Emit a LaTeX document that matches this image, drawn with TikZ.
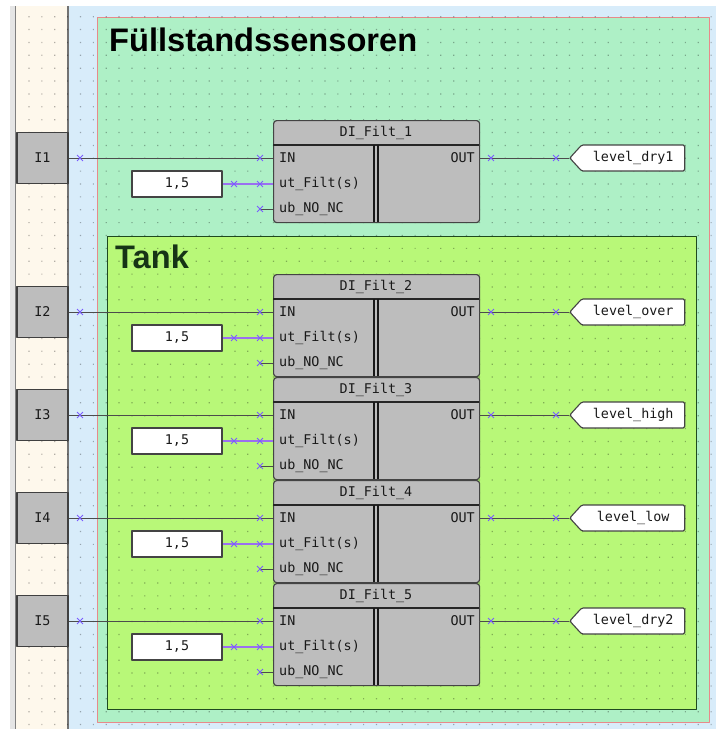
\documentclass[tikz,border=0pt]{standalone}
\usepackage{fontspec}
\setmainfont{Liberation Sans}
\setmonofont{DejaVu Sans Mono}
\usepackage{xcolor}
\usetikzlibrary{shapes.misc,shapes.symbols}

\definecolor{sheetblue}{HTML}{D8ECFA}
\definecolor{railbeige}{HTML}{FEF8EC}
\definecolor{panelgreen}{HTML}{AEF0C6}
\definecolor{panelred}{HTML}{E88A8A}
\definecolor{tankgreen}{HTML}{B8F878}
\definecolor{tankedge}{HTML}{1F4A1F}
\definecolor{blockgrey}{HTML}{BDBDBD}
\definecolor{edgegrey}{HTML}{444444}
\definecolor{crossblue}{HTML}{7A5CFF}
\definecolor{wirepurple}{HTML}{9A70F0}

\begin{document}
\begin{tikzpicture}[
  x=1pt,
  y=-1pt,
  line join=round,
  every node/.style={font=\fontsize{13.4}{15}\ttfamily, text=black!90},
  griddot/.style={fill=black, opacity=0.3},
  panellabel/.style={font=\fontsize{32.6}{36}\selectfont\bfseries, anchor=base west, inner sep=0pt},
  fblock/.style={draw=edgegrey, line width=1.2pt, fill=blockgrey, rounded corners=3pt,
    minimum width=206pt, minimum height=102pt, inner sep=0pt, anchor=north west},
  ioblock/.style={draw=black!75, line width=1.2pt, fill=blockgrey,
    minimum width=51pt, minimum height=51pt, inner sep=0pt},
  constbox/.style={draw=edgegrey, line width=1.3pt, fill=white,
    minimum width=90pt, minimum height=26pt, inner sep=0pt},
  tagbox/.style={signal, signal to=west, signal pointer angle=95, draw=edgegrey, line width=1.1pt,
    fill=white, rounded corners=1.5pt, minimum width=115pt, minimum height=26pt,
    inner xsep=0pt, inner ysep=0pt, anchor=west},
  pinleft/.style={anchor=west, inner xsep=6pt, inner ysep=0pt},
  pinright/.style={anchor=east, inner xsep=4pt, inner ysep=0pt},
  wire/.style={draw=black!70, line width=1pt},
  valuewire/.style={draw=wirepurple, line width=1.5pt},
  xmark/.style={cross out, draw=crossblue, line width=0.9pt, minimum size=5pt, inner sep=0pt}
]
  \useasboundingbox (0,0) rectangle (716,729);

  % Sheet, left rail
  \fill[sheetblue] (68,6) rectangle (716,729);
  \fill[railbeige] (16,6) rectangle (68,729);
  \fill[black!10] (10,6) rectangle (15,729);
  \draw[black!50, line width=1.2pt] (15.5,6) -- (15.5,729);
  \draw[black!55, line width=1.2pt] (68,6) -- (68,729);

  % Frames
  \draw[panelred, fill=panelgreen, line width=1pt] (97.5,17.5) rectangle (709.5,722);
  \draw[tankedge, fill=tankgreen, line width=1pt] (107,236) rectangle (696,709);

  % Grid
  \fill[griddot] \foreach \k [evaluate=\k as \dotx using 29+12.87*\k] in {0,...,53}{
    \foreach \j [evaluate=\j as \doty using 16.7+12.87*\j] in {0,...,55}{
      (\dotx-0.6,\doty-0.6) rectangle (\dotx+0.6,\doty+0.6)
    }
  };

  \node[panellabel, text=black] (sensors) at (109,51) {Füllstandssensoren};
  \node[panellabel, text=tankedge!70!black] (tank) at (115,268) {Tank};

  \foreach \n/\ytop/\tagname in {1/120/level\_dry1,2/274/level\_over,3/377/level\_high,4/480/level\_low,5/583/level\_dry2}{
    % Function block
    \node[fblock] (block\n) at (273,\ytop) {};
    \draw[black!85, line width=1.6pt] (273,\ytop+25) -- (479,\ytop+25);
    \draw[black!90, line width=2pt] (374,\ytop+25) -- (374,\ytop+102);
    \draw[black!90, line width=2pt] (378,\ytop+25) -- (378,\ytop+102);
    \node (title\n) at (376,\ytop+13) {DI\_Filt\_\n};
    \node[pinleft] (in\n) at (273,\ytop+38) {IN};
    \node[pinleft] (ut\n) at (273,\ytop+64) {ut\_Filt(s)};
    \node[pinleft] (ub\n) at (273,\ytop+89) {ub\_NO\_NC};
    \node[pinright] (out\n) at (479,\ytop+38) {OUT};

    % Left and right ends
    \node[ioblock] (io\n) at (42.5,\ytop+38) {I\n};
    \node[constbox] (const\n) at (177,\ytop+64) {1,5};
    \node[tagbox] (tag\n) at (569,\ytop+38) {\tagname};

    % Wires
    \draw[wire] (io\n) -- (in\n);
    \draw[valuewire] (const\n) -- (ut\n);
    \coordinate (ubend\n) at (260,\ytop+89);
    \draw[wire] (ubend\n) -- (ub\n);
    \draw[wire] (out\n) -- (tag\n.west);

    \node[xmark] (xa\n) at (80,\ytop+38) {};
    \node[xmark] (xb\n) at (260,\ytop+38) {};
    \node[xmark] (xc\n) at (234,\ytop+64) {};
    \node[xmark] (xd\n) at (260,\ytop+64) {};
    \node[xmark] (xe\n) at (ubend\n) {};
    \node[xmark] (xf\n) at (491,\ytop+38) {};
    \node[xmark] (xg\n) at (556,\ytop+38) {};
  }
\end{tikzpicture}
\end{document}
